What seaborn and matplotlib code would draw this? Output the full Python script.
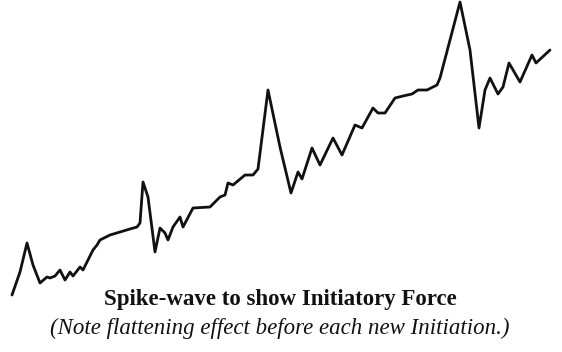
import matplotlib
matplotlib.use("Agg")
import matplotlib.pyplot as plt
import seaborn as sns
import pandas as pd

# Hand-drawn spike-wave trace: horizontal position and height (pixels from bottom)
x_pos = [12, 20, 27, 33, 40, 47, 50, 55, 60, 65, 70, 73, 80, 83, 88, 93, 97, 100,
         110, 120, 130, 137, 140, 143, 148, 155, 160, 165, 168, 173, 180, 183, 193,
         210, 220, 225, 228, 233, 245, 253, 258, 268, 280, 291, 298, 302, 312, 320,
         333, 342, 355, 362, 373, 378, 385, 395, 403, 412, 418, 427, 437, 440, 460,
         470, 479, 485, 490, 498, 503, 509, 520, 532, 536, 550]
y_pix = [295, 272, 243, 265, 283, 277, 278, 276, 270, 280, 272, 276, 267, 270, 260,
         250, 245, 240, 235, 232, 229, 227, 223, 182, 197, 252, 228, 233, 240, 227,
         217, 227, 208, 207, 197, 195, 183, 185, 175, 175, 169, 90, 147, 193, 172,
         179, 148, 165, 138, 155, 125, 128, 108, 113, 113, 98, 96, 94, 90, 90, 85,
         78, 2, 50, 128, 90, 78, 94, 87, 63, 82, 55, 63, 50]
height = [352 - y for y in y_pix]

title = "Spike-wave to show Initiatory Force"
subtitle = "(Note flattening effect before each new Initiation.)"

df = pd.DataFrame({"x": x_pos, "h": height})

sns.set_theme(style="white")
fig = plt.figure(figsize=(5.62, 3.52), dpi=100)
ax = fig.add_axes([0, 0, 1, 1])
sns.lineplot(data=df, x="x", y="h", ax=ax, color="#111111", linewidth=2.0,
             sort=False, estimator=None)
ax.set_xlim(0, 562)
ax.set_ylim(0, 352)
ax.axis("off")

fig.text(280, 352 - 299, title, transform=None, ha="center", va="center",
         fontsize=16.5, fontweight="bold", family="Liberation Serif", color="#111111")
fig.text(280, 352 - 328, subtitle, transform=None, ha="center", va="center",
         fontsize=16.5, style="italic", family="Liberation Serif", color="#111111")

fig.savefig("out.png", dpi=100, facecolor="white")
